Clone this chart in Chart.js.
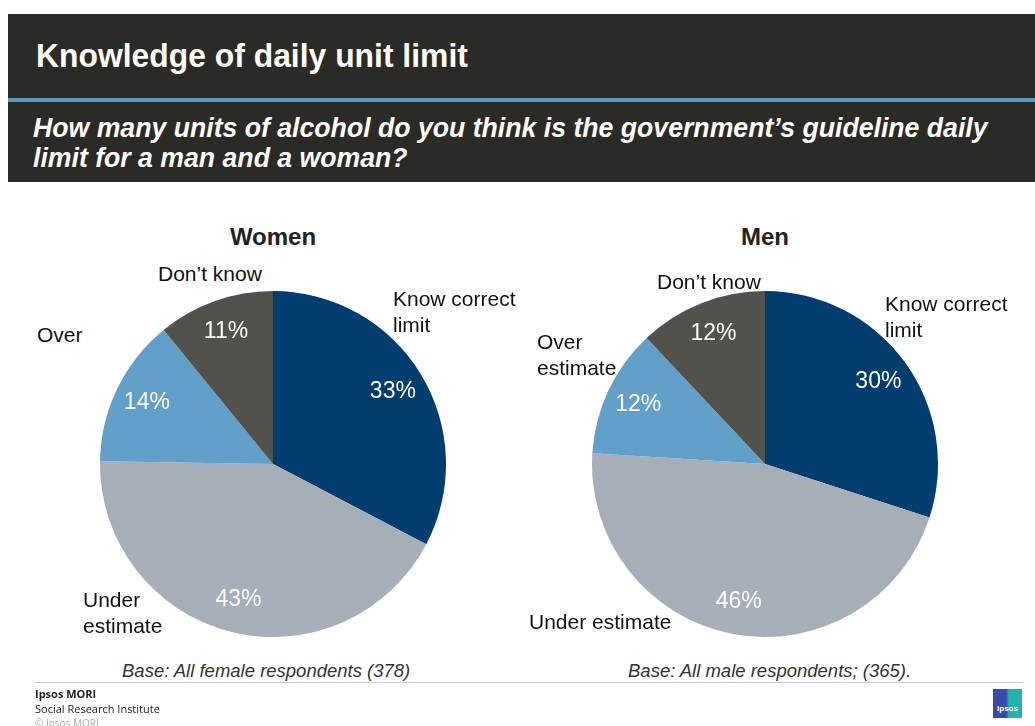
<!DOCTYPE html>
<html>
<head>
<meta charset="utf-8">
<script src="https://cdn.jsdelivr.net/npm/chart.js@4.4.1/dist/chart.umd.min.js"></script>
<style>
  html, body { margin: 0; padding: 0; background: #fff; }
  body { width: 1035px; height: 726px; position: relative; overflow: hidden; font-family: "Liberation Sans", Arial, sans-serif; }
  .band { position: absolute; left: 8px; right: 0; background: #2a2a26; }
  #titleBand { top: 14px; height: 84px; }
  #rule { position: absolute; left: 8px; right: 0; top: 98px; height: 4px; background: #5f97c3; }
  #questionBand { top: 102px; height: 80px; }
  #title { position: absolute; left: 36px; top: 38px; color: #fff; font-weight: bold; font-size: 34px; line-height: 34px; white-space: nowrap; transform: scaleX(0.937); transform-origin: 0 0; }
  #question { position: absolute; left: 33px; top: 113px; color: #fff; font-weight: bold; font-style: italic; font-size: 27px; line-height: 30px; white-space: nowrap; transform: scaleX(0.987); transform-origin: 0 0; }
  .pieTitle { position: absolute; top: 223px; width: 200px; text-align: center; font-weight: bold; font-size: 24px; color: #222; }
  .pieBox { position: absolute; top: 291px; width: 346px; height: 346px; }
  .lbl { position: absolute; font-size: 21px; line-height: 26px; color: #111; white-space: nowrap; }
  .base { position: absolute; top: 660px; font-style: italic; font-size: 18.5px; color: #333; white-space: nowrap; }
  #footLine { position: absolute; left: 35px; width: 988px; top: 682px; height: 1px; background: #c8c8c8; }
  .foot { position: absolute; left: 35px; font-family: "Open Sans", "DejaVu Sans", sans-serif; font-size: 11px; color: #222; white-space: nowrap; }
  #logo { position: absolute; left: 993px; top: 689px; width: 29px; height: 29px; background: linear-gradient(90deg, #3a4aa8 0%, #3a4aa8 45%, #22b3ad 55%, #22b3ad 100%); color: #fff; font-size: 8px; font-weight: bold; text-align: center; line-height: 40px; font-family: "Liberation Sans", Arial, sans-serif; }
</style>
</head>
<body>
<div class="band" id="titleBand"></div>
<div id="rule"></div>
<div class="band" id="questionBand"></div>
<div id="title">Knowledge of daily unit limit</div>
<div id="question">How many units of alcohol do you think is the government’s guideline daily<br>limit for a man and a woman?</div>

<div class="pieTitle" style="left:173px">Women</div>
<div class="pieTitle" style="left:665px">Men</div>

<div class="pieBox" style="left:100px"><canvas id="womenChart"></canvas></div>
<div class="pieBox" style="left:592px"><canvas id="menChart"></canvas></div>

<div id="labels"></div>

<div class="base" style="left:122px">Base: All female respondents (378)</div>
<div class="base" style="left:628px">Base: All male respondents; (365).</div>

<div id="footLine"></div>
<div class="foot" style="top:686px;font-weight:bold">Ipsos MORI</div>
<div class="foot" style="top:701px">Social Research Institute</div>
<div class="foot" style="top:716px;font-size:10px;color:#aaa">© Ipsos MORI</div>
<div id="logo">Ipsos</div>

<script>
// slice order runs clockwise from 12 o'clock
const categories = ['Know correct limit', 'Under estimate', 'Over estimate', 'Don’t know'];
const womenValues = [33, 43, 14, 11];
const menValues = [30, 46, 12, 12];
const womenLabelLines = [['Know correct', 'limit'], ['Under', 'estimate'], ['Over'], ['Don’t know']];
const menLabelLines = [['Know correct', 'limit'], ['Under estimate'], ['Over', 'estimate'], ['Don’t know']];
const sliceColors = ['#023d6f', '#a6aeb7', '#62a0c9', '#52514b'];

// where each category name sits next to its pie
const womenLabelPos = [[393, 286], [83, 587], [37, 322], [158, 261]];
const menLabelPos = [[885, 291], [529, 609], [537, 329], [657, 269]];

function placeLabels(lines, pos) {
    const holder = document.getElementById('labels');
    lines.forEach((l, i) => {
        const d = document.createElement('div');
        d.className = 'lbl';
        d.style.left = pos[i][0] + 'px';
        d.style.top = pos[i][1] + 'px';
        d.innerHTML = l.join('<br>');
        holder.appendChild(d);
    });
}
placeLabels(womenLabelLines, womenLabelPos);
placeLabels(menLabelLines, menLabelPos);

// white percentage inside each slice
const percentLabels = {
    id: 'percentLabels',
    afterDatasetsDraw(chart) {
        const ctx = chart.ctx;
        const meta = chart.getDatasetMeta(0);
        const values = chart.data.datasets[0].data;
        ctx.save();
        ctx.fillStyle = '#ffffff';
        ctx.font = '23px "Liberation Sans", Arial, sans-serif';
        ctx.textAlign = 'center';
        ctx.textBaseline = 'middle';
        meta.data.forEach((arc, i) => {
            const p = arc.getProps(['x', 'y', 'startAngle', 'endAngle', 'outerRadius'], true);
            const mid = (p.startAngle + p.endAngle) / 2;
            const r = p.outerRadius * 0.81;
            ctx.fillText(values[i] + '%', p.x + Math.cos(mid) * r, p.y + Math.sin(mid) * r);
        });
        ctx.restore();
    }
};

function makePie(id, values) {
    return new Chart(document.getElementById(id), {
        type: 'pie',
        data: {
            labels: categories,
            datasets: [{
                data: values,
                backgroundColor: sliceColors,
                borderWidth: 0
            }]
        },
        options: {
            responsive: true,
            maintainAspectRatio: false,
            animation: false,
            layout: { padding: 0 },
            plugins: {
                legend: { display: false },
                tooltip: { enabled: false }
            }
        },
        plugins: [percentLabels]
    });
}

makePie('womenChart', womenValues);
makePie('menChart', menValues);
</script>
</body>
</html>
